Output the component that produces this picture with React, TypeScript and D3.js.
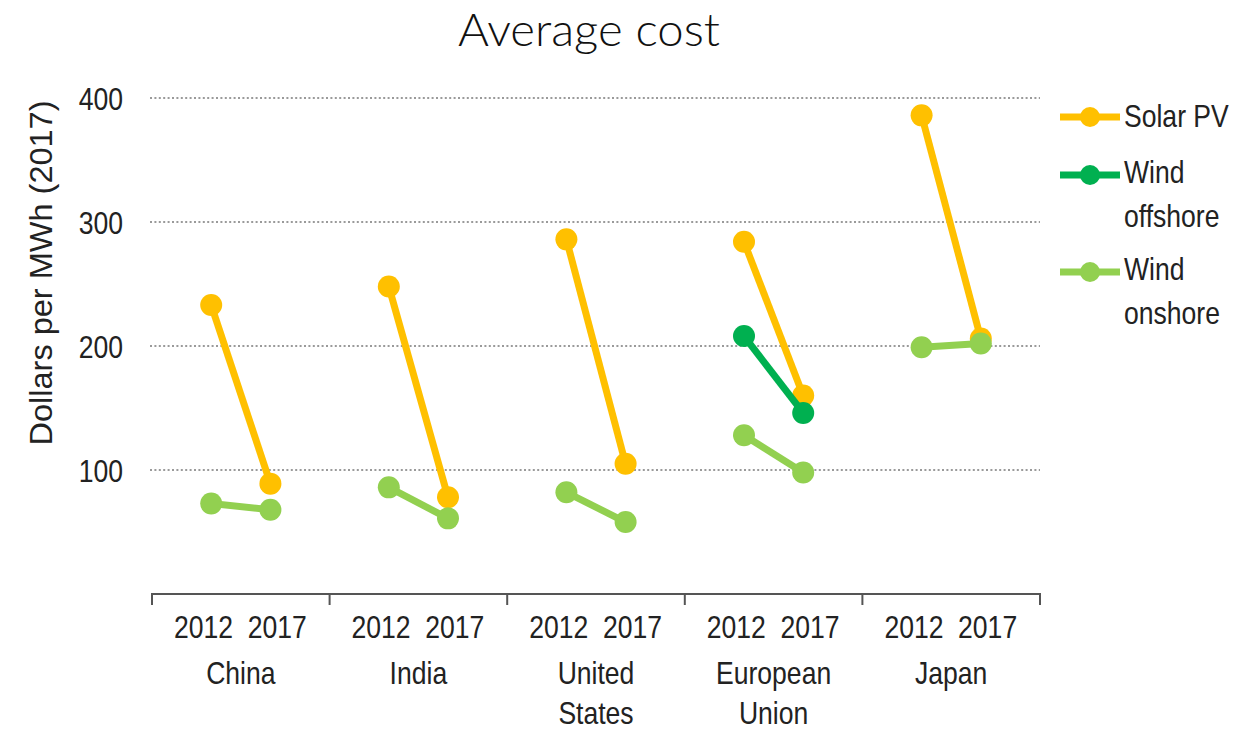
import React from "react";
import * as d3 from "d3";

const countries = ["China", "India", "United States", "European Union", "Japan"];
const countryLines = [["China"], ["India"], ["United", "States"], ["European", "Union"], ["Japan"]];
const years = ["2012", "2017"];
const solarPV = [[233, 89], [248, 78], [286, 105], [284, 160], [386, 206]];
const windOffshore: (number[] | null)[] = [null, null, null, [208, 146], null];
const windOnshore = [[73, 68], [86, 61], [82, 58], [128, 98], [199, 202]];
const yTicks = [100, 200, 300, 400];
const seriesNames = ["Solar PV", "Wind offshore", "Wind onshore"];
const seriesColors = ["#FFC000", "#00B050", "#92D050"];

const W = 1237;
const H = 731;
const FONT = "'Liberation Sans', Arial, sans-serif";

function T(props: { x: number; y: number; anchor?: string; size?: number; children: React.ReactNode }) {
  const { x, y, anchor = "start", size = 32, children } = props;
  return (
    <text
      transform={`translate(${x},${y}) scale(0.83,1)`}
      textAnchor={anchor}
      fontFamily={FONT}
      fontSize={size}
      fill="#222"
    >
      {children}
    </text>
  );
}

export default function App() {
  const x = d3.scaleBand<string>().domain(countries).range([152, 1040]).paddingInner(0).paddingOuter(0);
  const y = d3.scaleLinear().domain([0, 400]).range([594, 98]);
  const bw = x.bandwidth();
  const px = (c: string, i: number) => (x(c) as number) + bw * (i === 0 ? 1 / 3 : 2 / 3);
  const labelX = (c: string, i: number) => (x(c) as number) + bw * (i === 0 ? 0.29 : 0.705);
  const line = d3.line<[number, number]>().x((d) => d[0]).y((d) => d[1]);

  const series = [solarPV, windOffshore, windOnshore];

  return (
    <svg width={W} height={H} style={{ position: "absolute", left: 0, top: 0 }}>
      <rect width={W} height={H} fill="#fff" />
      <text x={589} y={46} textAnchor="middle" fontFamily="Lato, 'Noto Sans', sans-serif" fontWeight={300} fontSize={45} textLength={262} lengthAdjust="spacingAndGlyphs" fill="#111">Average cost</text>
      {yTicks.map((t) => (
        <g key={t}>
          <line x1={150} x2={1040} y1={y(t)} y2={y(t)} stroke="#9a9a9a" strokeWidth={2} strokeDasharray="2 2.4" />
          <T x={123} y={y(t) + 12} anchor="end">{t}</T>
        </g>
      ))}
      <text
        transform={`translate(52,273) rotate(-90)`}
        textAnchor="middle"
        fontFamily={FONT}
        fontSize={32}
        textLength={345}
        lengthAdjust="spacingAndGlyphs"
        fill="#222"
      >
        Dollars per MWh (2017)
      </text>
      <line x1={152} x2={1040} y1={594} y2={594} stroke="#555" strokeWidth={2} />
      {[...countries.map((c) => x(c) as number), 1040].map((v, i) => (
        <line key={i} x1={v} x2={v} y1={593} y2={605} stroke="#555" strokeWidth={2} />
      ))}
      {countries.map((c, ci) => (
        <g key={c}>
          {years.map((yr, i) => (
            <T key={yr} x={labelX(c, i)} y={638} anchor="middle">{yr}</T>
          ))}
          {countryLines[ci].map((ln, li) => (
            <T key={li} x={(x(c) as number) + bw / 2} y={684 + li * 40} anchor="middle">{ln}</T>
          ))}
        </g>
      ))}
      {series.map((s, si) => (
        <g key={si}>
          {countries.map((c, ci) => {
            const v = s[ci];
            if (!v) return null;
            const pts: [number, number][] = v.map((val, i) => [px(c, i), y(val)]);
            return (
              <g key={c}>
                <path d={line(pts) as string} stroke={seriesColors[si]} strokeWidth={7} fill="none" />
                {pts.map((p, i) => (
                  <circle key={i} cx={p[0]} cy={p[1]} r={11} fill={seriesColors[si]} />
                ))}
              </g>
            );
          })}
        </g>
      ))}
      {seriesNames.map((n, i) => {
        const ly = [117, 175, 272][i];
        const parts = i === 0 ? [n] : ["Wind", n.split(" ")[1]];
        return (
          <g key={n}>
            <line x1={1060} x2={1120} y1={ly} y2={ly} stroke={seriesColors[i]} strokeWidth={7} />
            <circle cx={1090} cy={ly} r={10} fill={seriesColors[i]} />
            {parts.map((p, pi) => (
              <T key={pi} x={1124} y={ly + (i === 0 ? 10 : 8) + pi * 44}>{p}</T>
            ))}
          </g>
        );
      })}
    </svg>
  );
}
